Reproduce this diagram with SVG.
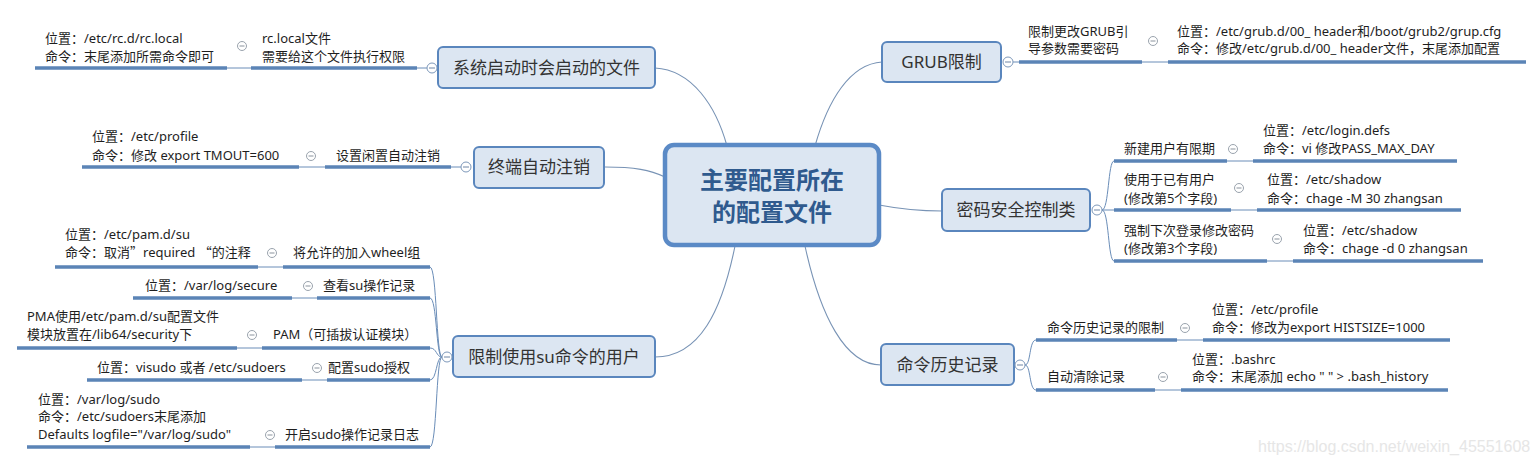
<svg xmlns="http://www.w3.org/2000/svg" width="1539" height="465" viewBox="0 0 1539 465">
<style>
.t{font-family:'Noto Sans','Noto Sans CJK SC',sans-serif;font-size:13px;fill:#1e1e1e}
.q{font-family:'Noto Sans CJK SC',sans-serif}
.n{font-family:'Noto Sans','Noto Sans CJK SC',sans-serif;font-size:17px;fill:#333;text-anchor:middle}
.c{font-family:'Noto Sans CJK SC','Noto Sans',sans-serif;font-size:24px;font-weight:bold;fill:#2f5a8e;text-anchor:middle}
.box{fill:#dce6f2;stroke:#5a86bd;stroke-width:2}
.ul{stroke:#5b84b6;stroke-width:3.5;fill:none}
.th{stroke:#6a8db8;stroke-width:1;fill:none}
.mc{stroke:#7893b5;stroke-width:1.1;fill:none}
.ic circle{fill:#fff;stroke:#9aa3ad;stroke-width:1}
.ic path{stroke:#8a939d;stroke-width:1}
.bc circle{fill:#fff;stroke:#7d98ba;stroke-width:1}
.bc path{stroke:#6e86a6;stroke-width:1}
</style>
<defs>
<g id="ico" class="ic"><circle r="4.5"/><path d="M-2.5,0H2.5"/></g>
<g id="bco" class="bc"><circle r="5"/><path d="M-3,0H3"/></g>
</defs>
<rect width="1539" height="465" fill="#fff"/>

<g id="connectors">
<path class="mc" d="M655,68 C692,70 716,106 727,146"/>
<path class="mc" d="M882,62 C850,64 828,100 815,146"/>
<path class="mc" d="M605,167 C635,167 650,170 665,177"/>
<path class="mc" d="M879,205 C905,210 920,211 942,211"/>
<path class="mc" d="M735,246 C722,310 700,357 655,357"/>
<path class="mc" d="M805,246 C820,315 845,365 881,365"/>
<path class="th" d="M427,68 H417 M227,68 H251"/>
<path class="th" d="M461,167 H451 M299,167 H325"/>
<path class="th" d="M442,357 C436,357 437,267 430,267"/>
<path class="th" d="M442,357 C436,357 437,298 430,298"/>
<path class="th" d="M442,357 C436,357 437,348 430,348"/>
<path class="th" d="M442,357 C436,357 437,380 430,380"/>
<path class="th" d="M442,357 C436,357 437,447 430,447"/>
<path class="th" d="M258,267 H283 M292,298 H317 M237,348 H262 M302,380 H327 M250,447 H275"/>
<path class="th" d="M1013,62 H1019 M1142,62 H1168"/>
<path class="th" d="M1102,210 C1109,210 1108,161 1114,161"/>
<path class="th" d="M1102,210 H1114"/>
<path class="th" d="M1102,210 C1109,210 1108,261 1114,261"/>
<path class="th" d="M1227,161 H1253 M1231,210 H1257 M1267,261 H1293"/>
<path class="th" d="M1025,365 C1031,365 1029,340 1036,340"/>
<path class="th" d="M1025,365 C1031,365 1029,390 1036,390"/>
<path class="th" d="M1177,340 H1203 M1155,390 H1181"/>
<path class="ul" d="M35,68 H227 M251,68 H417"/>
<path class="ul" d="M82,167 H299 M325,167 H451"/>
<path class="ul" d="M55,267 H258 M283,267 H430"/>
<path class="ul" d="M133,298 H292 M317,298 H430"/>
<path class="ul" d="M17,348 H237 M262,348 H430"/>
<path class="ul" d="M87,380 H302 M327,380 H430"/>
<path class="ul" d="M27,447 H250 M275,447 H430"/>
<path class="ul" d="M1019,62 H1142 M1168,62 H1526"/>
<path class="ul" d="M1114,161 H1227 M1253,161 H1457"/>
<path class="ul" d="M1114,210 H1231 M1257,210 H1461"/>
<path class="ul" d="M1114,261 H1267 M1293,261 H1483"/>
<path class="ul" d="M1036,340 H1177 M1203,340 H1450"/>
<path class="ul" d="M1036,390 H1155 M1181,390 H1448"/>
</g>

<g id="center">
<rect x="665" y="145" width="214" height="100" rx="9" fill="#dce6f2" stroke="#5b8ac6" stroke-width="4.5"/>
<text class="c" x="772" y="189">主要配置所在</text>
<text class="c" x="772" y="221">的配置文件</text>
</g>

<g id="n-startup">
<rect class="box" x="438" y="47" width="217" height="41" rx="5"/>
<text class="n" x="546.5" y="74">系统启动时会启动的文件</text>
<use href="#bco" x="432" y="68"/>
<text class="t" x="262" y="43">rc.local文件</text>
<text class="t" x="262" y="61">需要给这个文件执行权限</text>
<use href="#ico" x="242" y="46"/>
<text class="t" x="45" y="43">位置：/etc/rc.d/rc.local</text>
<text class="t" x="45" y="61">命令：末尾添加所需命令即可</text>
</g>

<g id="n-tmout">
<rect class="box" x="474" y="147" width="130" height="41" rx="5"/>
<text class="n" x="539" y="173">终端自动注销</text>
<use href="#bco" x="466" y="167"/>
<text class="t" x="336" y="160">设置闲置自动注销</text>
<use href="#ico" x="311" y="156"/>
<text class="t" x="92" y="141">位置：/etc/profile</text>
<text class="t" x="92" y="160">命令：修改 export TMOUT=600</text>
</g>

<g id="n-su">
<rect class="box" x="453" y="336" width="202" height="41" rx="5"/>
<text class="n" x="554" y="363">限制使用su命令的用户</text>
<use href="#bco" x="447" y="357"/>
<text class="t" x="293" y="257">将允许的加入wheel组</text>
<use href="#ico" x="272" y="253"/>
<text class="t" x="65" y="239">位置：/etc/pam.d/su</text>
<text class="t" x="65" y="257">命令：取消<tspan class="q">”</tspan>required <tspan class="q">“</tspan>的注释</text>
<text class="t" x="323" y="290">查看su操作记录</text>
<use href="#ico" x="308" y="286"/>
<text class="t" x="145" y="290">位置：/var/log/secure</text>
<text class="t" x="273" y="339">PAM（可插拔认证模块）</text>
<use href="#ico" x="252" y="335"/>
<text class="t" x="27" y="321">PMA使用/etc/pam.d/su配置文件</text>
<text class="t" x="27" y="339">模块放置在/lib64/security下</text>
<text class="t" x="328" y="372">配置sudo授权</text>
<use href="#ico" x="317" y="368"/>
<text class="t" x="97" y="372">位置：visudo 或者 /etc/sudoers</text>
<text class="t" x="285" y="439">开启sudo操作记录日志</text>
<use href="#ico" x="270" y="435"/>
<text class="t" x="38" y="404">位置：/var/log/sudo</text>
<text class="t" x="38" y="421">命令：/etc/sudoers末尾添加</text>
<text class="t" x="38" y="439">Defaults logfile="/var/log/sudo"</text>
</g>

<g id="n-grub">
<rect class="box" x="882" y="42" width="119" height="40" rx="5"/>
<text class="n" x="941.5" y="68">GRUB限制</text>
<use href="#bco" x="1008" y="62"/>
<text class="t" x="1028" y="36">限制更改GRUB引</text>
<text class="t" x="1028" y="53">导参数需要密码</text>
<use href="#ico" x="1153" y="41"/>
<text class="t" x="1177" y="36">位置：/etc/grub.d/00_ header和/boot/grub2/grup.cfg</text>
<text class="t" x="1177" y="53">命令：修改/etc/grub.d/00_ header文件，末尾添加配置</text>
</g>

<g id="n-passwd">
<rect class="box" x="942" y="189" width="148" height="42" rx="5"/>
<text class="n" x="1016" y="216">密码安全控制类</text>
<use href="#bco" x="1097" y="210"/>
<text class="t" x="1124" y="153">新建用户有限期</text>
<use href="#ico" x="1233" y="149"/>
<text class="t" x="1263" y="135">位置：/etc/login.defs</text>
<text class="t" x="1263" y="153">命令：vi 修改PASS_MAX_DAY</text>
<text class="t" x="1124" y="184">使用于已有用户</text>
<text class="t" x="1124" y="203">(修改第5个字段)</text>
<use href="#ico" x="1239" y="188"/>
<text class="t" x="1267" y="184">位置：/etc/shadow</text>
<text class="t" x="1267" y="203">命令：chage -M 30 zhangsan</text>
<text class="t" x="1124" y="235">强制下次登录修改密码</text>
<text class="t" x="1124" y="253">(修改第3个字段)</text>
<use href="#ico" x="1277" y="239"/>
<text class="t" x="1303" y="235">位置：/etc/shadow</text>
<text class="t" x="1303" y="253">命令：chage -d 0 zhangsan</text>
</g>

<g id="n-history">
<rect class="box" x="881" y="344" width="133" height="41" rx="5"/>
<text class="n" x="947.5" y="371">命令历史记录</text>
<use href="#bco" x="1020" y="365"/>
<text class="t" x="1047" y="332">命令历史记录的限制</text>
<use href="#ico" x="1185" y="328"/>
<text class="t" x="1212" y="314">位置：/etc/profile</text>
<text class="t" x="1212" y="332">命令：修改为export HISTSIZE=1000</text>
<text class="t" x="1047" y="381">自动清除记录</text>
<use href="#ico" x="1163" y="377"/>
<text class="t" x="1192" y="364">位置：.bashrc</text>
<text class="t" x="1192" y="381">命令：末尾添加 echo " " &gt; .bash_history</text>
</g>

<text x="1258" y="452" font-family="'Liberation Sans',sans-serif" font-size="16" fill="#e6e6e6">https://blog.csdn.net/weixin_45551608</text>
</svg>
